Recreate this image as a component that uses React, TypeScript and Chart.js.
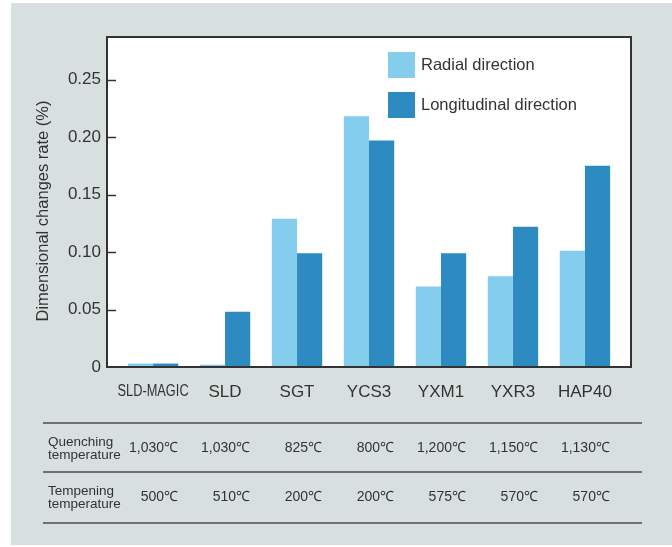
import React, { useEffect, useRef } from 'react';
import { Chart, registerables } from 'chart.js';

Chart.register(...registerables);

const categories = ['SLD-MAGIC', 'SLD', 'SGT', 'YCS3', 'YXM1', 'YXR3', 'HAP40'];
const radial = [0.003, 0.002, 0.129, 0.218, 0.07, 0.079, 0.101];
const longitudinal = [0.003, 0.048, 0.099, 0.197, 0.099, 0.122, 0.175];
const yTicks = [0, 0.05, 0.1, 0.15, 0.2, 0.25];
const quenching = ['1,030℃', '1,030℃', '825℃', '800℃', '1,200℃', '1,150℃', '1,130℃'];
const tempering = ['500℃', '510℃', '200℃', '200℃', '575℃', '570℃', '570℃'];
const rowLabels = [
  ['Quenching', 'temperature'],
  ['Tempening', 'temperature'],
];
const seriesNames = ['Radial direction', 'Longitudinal direction'];
const seriesColors = ['#85CDEC', '#2D8BC1'];
const yTitle = 'Dimensional changes rate (%)';
// categories whose axis label is set in a condensed face
const condensedLabels = [0];

const TEXT = '#333333';
const FONT = '"Liberation Sans", Arial, sans-serif';

const decor = {
  id: 'decor',
  beforeDraw(chart: any) {
    const { ctx, chartArea: a } = chart;
    ctx.save();
    ctx.fillStyle = '#ffffff';
    ctx.fillRect(a.left, a.top, a.right - a.left, a.bottom - a.top);
    ctx.restore();
  },
  afterDraw(chart: any) {
    const { ctx, chartArea: a } = chart;
    const xs = chart.scales.x;
    const ys = chart.scales.y;
    ctx.save();
    // frame
    ctx.strokeStyle = '#333';
    ctx.lineWidth = 2;
    ctx.strokeRect(a.left, a.top, a.right - a.left, a.bottom - a.top);
    // inward ticks
    ctx.lineWidth = 1.5;
    ys.ticks.forEach((t: any) => {
      if (t.value === 0) return;
      const py = Math.round(ys.getPixelForValue(t.value)) + 0.5;
      ctx.beginPath();
      ctx.moveTo(a.left, py);
      ctx.lineTo(a.left + 9, py);
      ctx.stroke();
    });
    // condensed category labels
    condensedLabels.forEach((i) => {
      ctx.save();
      ctx.fillStyle = TEXT;
      ctx.font = `16px ${FONT}`;
      ctx.textAlign = 'center';
      ctx.textBaseline = 'middle';
      ctx.translate(xs.getPixelForValue(i), a.bottom + 25);
      ctx.scale(0.8, 1);
      ctx.fillText(categories[i], 0, 0);
      ctx.restore();
    });
    // y title
    ctx.save();
    ctx.fillStyle = TEXT;
    ctx.font = `16.5px ${FONT}`;
    ctx.textAlign = 'center';
    ctx.textBaseline = 'middle';
    ctx.translate(43, (a.top + a.bottom) / 2 + 9);
    ctx.rotate(-Math.PI / 2);
    ctx.fillText(yTitle, 0, 0);
    ctx.restore();

    // legend
    chart.data.datasets.forEach((ds: any, i: number) => {
      const sx = a.left + 281;
      const sy = a.top + 15 + i * 40;
      ctx.fillStyle = ds.backgroundColor;
      ctx.fillRect(sx, sy, 27, 26);
      ctx.fillStyle = TEXT;
      ctx.font = `16.5px ${FONT}`;
      ctx.textAlign = 'left';
      ctx.textBaseline = 'middle';
      ctx.fillText(ds.label, sx + 33, sy + 13);
    });

    // table
    const lineYs = [a.bottom + 56, a.bottom + 105, a.bottom + 156];
    ctx.strokeStyle = '#707070';
    ctx.lineWidth = 2;
    lineYs.forEach((ly) => {
      ctx.beginPath();
      ctx.moveTo(43, ly);
      ctx.lineTo(642, ly);
      ctx.stroke();
    });
    const rows = [quenching, tempering];
    const rowCenters = [a.bottom + 81.5, a.bottom + 130.5];
    rows.forEach((vals, r) => {
      const cy = rowCenters[r];
      ctx.fillStyle = TEXT;
      ctx.font = `13.5px ${FONT}`;
      ctx.textAlign = 'left';
      ctx.textBaseline = 'middle';
      ctx.fillText(rowLabels[r][0], 48, cy - 6.5);
      ctx.fillText(rowLabels[r][1], 48, cy + 6.5);
      ctx.font = `14px ${FONT}`;
      ctx.textAlign = 'right';
      vals.forEach((v, i) => {
        ctx.fillText(v, xs.getPixelForValue(i) + 25, cy);
      });
    });
    ctx.restore();
  },
};

export default function App() {
  const ref = useRef<HTMLCanvasElement>(null);

  useEffect(() => {
    document.body.style.margin = '0';
    const canvas = ref.current;
    if (!canvas) return;
    const chart = new Chart(canvas, {
      type: 'bar',
      data: {
        datasets: [
          {
            label: seriesNames[0],
            data: radial.map((v, i) => ({ x: i, y: v })),
            backgroundColor: seriesColors[0],
            borderWidth: 0,
            categoryPercentage: 0.7,
            barPercentage: 1,
          },
          {
            label: seriesNames[1],
            data: longitudinal.map((v, i) => ({ x: i, y: v })),
            backgroundColor: seriesColors[1],
            borderWidth: 0,
            categoryPercentage: 0.7,
            barPercentage: 1,
          },
        ],
      } as any,
      options: {
        animation: false,
        responsive: false,
        devicePixelRatio: 1,
        layout: { padding: { left: 0, top: 37, right: 41, bottom: 140 } },
        plugins: { legend: { display: false }, tooltip: { enabled: false } },
        scales: {
          x: {
            type: 'linear',
            offset: false,
            min: -0.64,
            max: 6.64,
            grid: { display: false, drawTicks: false, offset: false },
            border: { display: false },
            afterBuildTicks: (s: any) => {
              s.ticks = categories.map((_, i) => ({ value: i }));
            },
            afterFit: (s: any) => {
              s.height = 40;
            },
            ticks: {
              padding: 15,
              color: TEXT,
              autoSkip: false,
              maxRotation: 0,
              callback: (v: any) =>
                condensedLabels.includes(v as number) ? '' : categories[v as number],
              font: { family: FONT, size: 17 },
            },
          },
          y: {
            min: 0,
            max: 0.287,
            grid: { display: false, drawTicks: false },
            border: { display: false },
            afterBuildTicks: (s: any) => {
              s.ticks = yTicks.map((v) => ({ value: v }));
            },
            afterFit: (s: any) => {
              s.width = 107;
            },
            ticks: {
              padding: 6,
              color: TEXT,
              font: { family: FONT, size: 17 },
              callback: (v: any) => (v === 0 ? '0' : Number(v).toFixed(2)),
            },
          },
        },
      } as any,
      plugins: [decor],
    });
    return () => chart.destroy();
  }, []);

  return (
    <div style={{ position: 'relative', width: 672, height: 547, background: '#ffffff' }}>
      <div
        style={{
          position: 'absolute',
          left: 11,
          top: 3,
          width: 661,
          height: 542,
          background: '#d8e0df',
        }}
      />
      <canvas
        ref={ref}
        width={672}
        height={547}
        style={{ position: 'absolute', left: 0, top: 0, width: 672, height: 547 }}
      />
    </div>
  );
}
